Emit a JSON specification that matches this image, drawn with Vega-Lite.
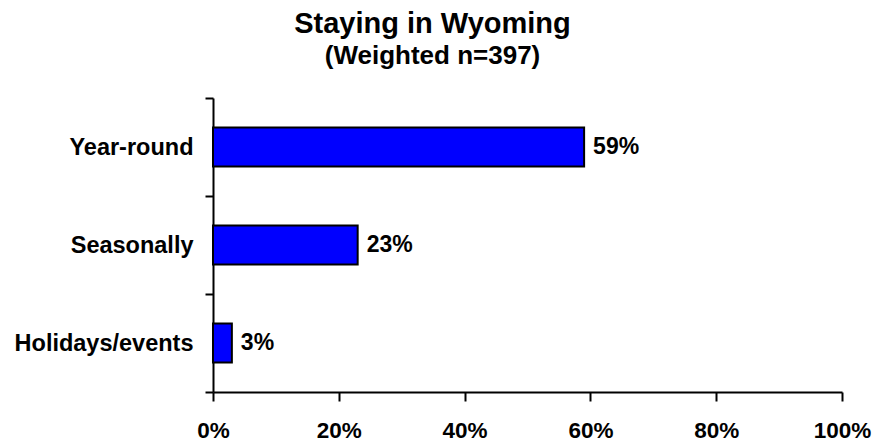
{
  "$schema": "https://vega.github.io/schema/vega-lite/v6.json",
  "autosize": "none",
  "width": 629,
  "height": 294,
  "padding": {"left": 213, "top": 98, "right": 46, "bottom": 49},
  "background": "white",
  "title": {
    "text": "Staying in Wyoming",
    "subtitle": "(Weighted n=397)",
    "anchor": "middle",
    "frame": "group",
    "dx": -95,
    "font": "Liberation Sans",
    "fontSize": 29,
    "fontWeight": "bold",
    "color": "black",
    "subtitleFont": "Liberation Sans",
    "subtitleFontSize": 26,
    "subtitleFontWeight": "bold",
    "subtitleColor": "black",
    "subtitlePadding": 4,
    "offset": 17
  },
  "config": {
    "view": {"stroke": null},
    "axis": {
      "domainColor": "black",
      "tickColor": "black",
      "domainWidth": 2,
      "tickWidth": 2,
      "grid": false,
      "labelFont": "Liberation Sans",
      "labelFontWeight": "bold",
      "labelColor": "black",
      "title": null
    }
  },
  "data": {
    "values": [
      {"category": "Year-round", "share": 0.59},
      {"category": "Seasonally", "share": 0.23},
      {"category": "Holidays/events", "share": 0.03}
    ]
  },
  "encoding": {
    "y": {
      "field": "category",
      "type": "nominal",
      "sort": null,
      "scale": {"paddingInner": 0, "paddingOuter": 0},
      "axis": {
        "tickBand": "extent",
        "tickSize": 8,
        "labelPadding": 12,
        "labelFontSize": 23.5,
        "labelLimit": 300
      }
    },
    "x": {
      "field": "share",
      "type": "quantitative",
      "scale": {"domain": [0, 1], "nice": false},
      "axis": {
        "values": [0, 0.2, 0.4, 0.6, 0.8, 1],
        "format": ".0%",
        "tickSize": 9,
        "labelPadding": 18,
        "labelFontSize": 22.5,
        "labelFlush": false,
        "labelOverlap": false
      }
    }
  },
  "layer": [
    {
      "mark": {"type": "bar", "fill": "#0000FF", "stroke": "black", "strokeWidth": 2, "height": {"band": 0.4}}
    },
    {
      "mark": {
        "type": "text",
        "align": "left",
        "baseline": "middle",
        "dx": 9,
        "font": "Liberation Sans",
        "fontWeight": "bold",
        "fontSize": 23,
        "color": "black"
      },
      "encoding": {"text": {"field": "share", "type": "quantitative", "format": ".0%"}}
    }
  ]
}
